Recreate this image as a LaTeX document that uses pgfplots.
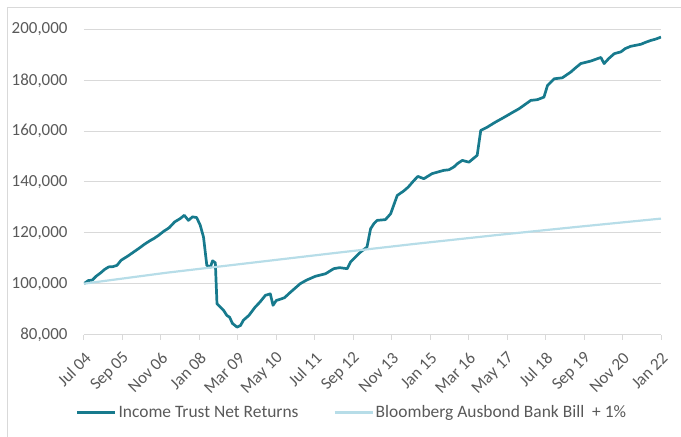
\documentclass[border=0pt]{standalone}
\usepackage{pgfplots}
\pgfplotsset{compat=1.18}
\usepackage{fontspec}
\setmainfont{Carlito}
\definecolor{teal1}{HTML}{177A8D}
\definecolor{lblue}{HTML}{B7DDE8}
\definecolor{txt}{HTML}{595959}
\definecolor{gridc}{HTML}{D9D9D9}
\pgfplotstableread{
m v
0 100000
1.5 101200
3 101400
4.5 103000
6 104200
7.5 105600
9 106600
10.5 106700
12 107200
13.5 109200
16 110900
18 112400
20 113900
22 115500
24 116900
25.5 117800
27 118900
29 120600
31 122000
33 124300
35 125600
36.5 126900
38 124900
39.5 126300
41 126000
42.3 123000
43.5 118300
44.7 107200
46 106500
46.8 109000
47.8 108200
48.4 92100
50.8 89500
52 87500
53 86800
54 84400
55.7 82900
57 83600
58 85600
60 87500
62.3 90800
64 92700
66 95400
67.8 96000
68.8 91500
70 93400
71.5 93900
73 94500
75 96500
78.7 100000
81 101400
84.2 102900
87.9 103900
90.9 105900
93 106300
95.8 105900
97 108500
100.6 112400
103 114400
104.3 121600
105.5 123600
106.7 124900
109.7 125200
111.6 127500
114 134700
116.4 136500
118 138000
120 140500
121.5 142200
123.7 141300
126.7 143300
129 144000
131 144600
132.8 144800
134.6 145900
136 147300
137.7 148500
140.1 147800
143.1 150500
144.4 160300
146.8 161600
149.8 163600
152 164900
154.1 166200
156 167400
158.3 168800
160 170100
162.6 172100
165 172400
167.4 173400
168.7 178000
171.1 180600
174.1 181000
177.2 183300
179 185000
180.8 186600
184.5 187600
188.1 189000
189.3 186600
191 188600
193 190500
195.4 191200
197 192500
199 193400
202.7 194200
204.5 195000
206.3 195700
208 196200
210 197000
}\trust
\pgfplotstableread{
m v
0 100000
30 104300
60 108100
90 111900
120 115600
150 119100
180 122400
210 125600
}\bank
\begin{document}
\begin{tikzpicture}
\useasboundingbox (-84bp,-102.5bp) rectangle (597bp,334.5bp);
\draw[gridc, line width=1bp] (-76bp,-102.5bp) -- (-76bp,326.5bp) -- (597bp,326.5bp);
\begin{axis}[
 scale only axis, width=577bp, height=305bp,
 xmin=0, xmax=210, ymin=80000, ymax=200000,
 ytick={80000,100000,...,200000},
 xtick={0,14,...,210},
 xticklabels={Jul 04,Sep 05,Nov 06,Jan 08,Mar 09,May 10,Jul 11,Sep 12,Nov 13,Jan 15,Mar 16,May 17,Jul 18,Sep 19,Nov 20,Jan 22},
 separate axis lines,
 axis x line*=bottom, axis y line*=left,
 y axis line style={draw=none},
 x axis line style={gridc, line width=1bp, -},
 ymajorgrids, grid style={gridc, line width=1bp},
 xtick style={gridc, line width=1bp},
 ytick style={draw=none},
 tick align=outside, major tick length=5bp,
 tick label style={font=\fontsize{17}{20}\selectfont, text=txt},
 yticklabel style={xshift=-8bp},
 xticklabel style={rotate=45, anchor=east, xshift=-5bp, yshift=-14bp},
 scaled y ticks=false,
 /pgf/number format/.cd, fixed, 1000 sep={,}, assume math mode=true,
]
\end{axis}
\begin{axis}[
 scale only axis, width=577bp, height=305bp,
 xmin=0, xmax=210, ymin=80000, ymax=200000,
 hide axis,
 legend columns=2,
 legend style={at={(0.4645,-0.2555)}, anchor=center, draw=none, fill=none,
   font=\fontsize{17.5}{20}\selectfont, text=txt,
   /tikz/every even column/.append style={column sep=33bp}},
 legend image code/.code={\draw[#1] (0bp,0bp) -- (38bp,0bp);},
]
\addplot[teal1, line width=2.7bp, line join=round] table[x=m,y=v]{\trust};
\addlegendentry{Income Trust Net Returns}
\addplot[lblue, line width=2.2bp, line join=round] table[x=m,y=v]{\bank};
\addlegendentry{Bloomberg Ausbond Bank Bill\ \ + 1\%}
\end{axis}
\end{tikzpicture}
\end{document}
